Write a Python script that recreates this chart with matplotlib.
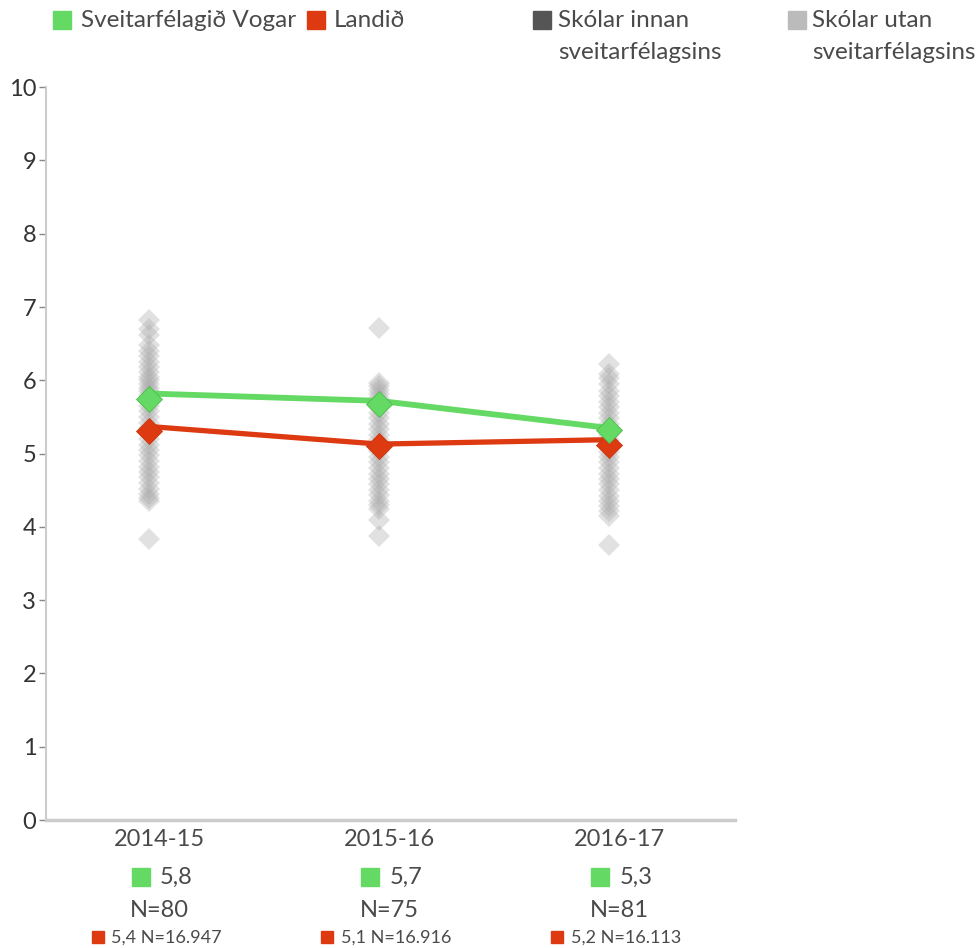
import matplotlib
matplotlib.use("Agg")
import matplotlib.pyplot as plt
from matplotlib.lines import Line2D

plt.rcParams['font.family'] = ['Lato', 'DejaVu Sans']

years = ["2014-15", "2015-16", "2016-17"]

# line values (drawn) and marker values (diamonds)
vogar_line = [5.82, 5.72, 5.35]
vogar_marker = [5.75, 5.68, 5.32]
land_line = [5.37, 5.13, 5.19]
land_marker = [5.31, 5.11, 5.12]

vogar_label = ["5,8", "5,7", "5,3"]
vogar_n = ["N=80", "N=75", "N=81"]
land_label = ["5,4 N=16.947", "5,1 N=16.916", "5,2 N=16.113"]

# other schools (gray diamonds)
schools_1415 = [6.82, 6.70, 6.62, 6.48, 6.40, 6.33, 6.25, 6.18, 6.12, 6.05, 6.00, 5.95,
                5.90, 5.85, 5.80, 5.72, 5.65, 5.58, 5.50, 5.42, 5.35, 5.28, 5.20, 5.12,
                5.05, 4.98, 4.90, 4.82, 4.75, 4.68, 4.60, 4.52, 4.45, 4.40, 4.35, 3.83]
schools_1516 = [6.72, 5.97, 5.92, 5.87, 5.82, 5.76, 5.70, 5.63, 5.55, 5.48, 5.40, 5.33,
                5.25, 5.18, 5.10, 5.03, 4.95, 4.88, 4.80, 4.72, 4.65, 4.58, 4.50, 4.43,
                4.36, 4.30, 4.25, 4.10, 3.88]
schools_1617 = [6.22, 6.08, 6.03, 5.95, 5.85, 5.78, 5.70, 5.63, 5.56, 5.48, 5.40, 5.33,
                5.25, 5.18, 5.10, 5.02, 4.95, 4.88, 4.80, 4.72, 4.65, 4.58, 4.50, 4.42,
                4.35, 4.28, 4.22, 4.15, 3.75]
schools = [schools_1415, schools_1516, schools_1617]

GREEN = "#64d964"
RED = "#de3a12"
TXT = "#4a4a4a"

fig = plt.figure(figsize=(9.79, 9.48), dpi=100)
ax = fig.add_axes([0.047, 0.135, 0.704, 0.773])

x = list(range(len(years)))
for i, vals in enumerate(schools):
    ax.plot([i] * len(vals), vals, linestyle="none", marker="D", markersize=11,
            color="#aaaaaa", alpha=0.35, markeredgewidth=0, zorder=1)

ax.plot(x, land_line, color=RED, linewidth=3.8, zorder=2, solid_capstyle="butt")
ax.plot(x, vogar_line, color=GREEN, linewidth=4.2, zorder=3, solid_capstyle="butt")
ax.plot(x, land_marker, linestyle="none", marker="D", markersize=13.5, color=RED,
        markeredgecolor="#c83510", markeredgewidth=0.6, zorder=4)
ax.plot(x, vogar_marker, linestyle="none", marker="D", markersize=13.5, color=GREEN,
        markeredgecolor="#4fb84f", markeredgewidth=0.6, zorder=5)

ax.set_xlim(-0.45, 2.55)
ax.set_ylim(0, 10)
ax.set_yticks(range(0, 11))
ax.set_xticks([])
ax.tick_params(axis="y", length=5, width=1, color="#888888", labelsize=17,
               labelcolor="#333333", pad=2)
for s in ["top", "right"]:
    ax.spines[s].set_visible(False)
ax.spines["left"].set_color("#cccccc")
ax.spines["left"].set_linewidth(1.5)
ax.spines["bottom"].set_color("#cccccc")
ax.spines["bottom"].set_linewidth(2.5)

# category labels and annotations below the axis
tr = ax.get_xaxis_transform()
off = 0.045
for i in x:
    c = i + off
    ax.text(c, -0.027, years[i], transform=tr, ha="center", va="center",
            fontsize=17, color=TXT)
    ax.plot([c - 0.083], [-0.078], marker="s", markersize=13, color=GREEN,
            transform=tr, clip_on=False, linestyle="none")
    ax.text(c + 0.0, -0.078, vogar_label[i], transform=tr, ha="left", va="center",
            fontsize=17, color=TXT)
    ax.text(c, -0.123, vogar_n[i], transform=tr, ha="center", va="center",
            fontsize=17, color=TXT)
    ax.plot([c - 0.27], [-0.160], marker="s", markersize=9, color=RED,
            transform=tr, clip_on=False, linestyle="none")
    ax.text(c - 0.21, -0.160, land_label[i], transform=tr, ha="left", va="center",
            fontsize=13, color=TXT)

# legend at the top
legend_items = [
    (GREEN, "Sveitarfélagið Vogar", 62, 81),
    (RED, "Landið", 316, 334),
    ("#555555", "Skólar innan\nsveitarfélagsins", 542, 558),
    ("#bbbbbb", "Skólar utan\nsveitarfélagsins", 797, 812),
]
W, H = 979, 948
for color, label, sx, tx in legend_items:
    fig.add_artist(Line2D([sx / W], [1 - 20 / H], marker="s", markersize=13,
                          color=color, linestyle="none", transform=fig.transFigure))
    fig.text(tx / W, 1 - 10 / H, label, ha="left", va="top", fontsize=17.5,
             color=TXT, linespacing=1.65)

fig.savefig("out.png", dpi=100)
